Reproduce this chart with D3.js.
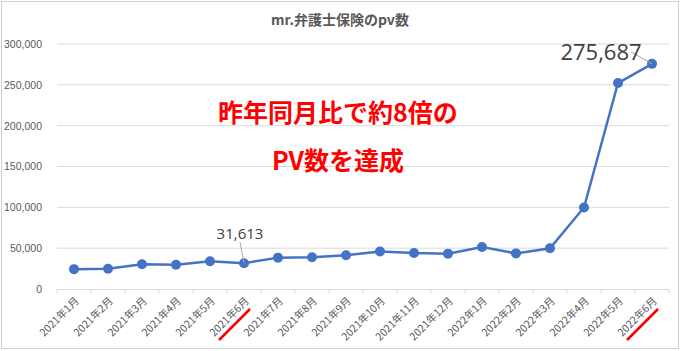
<!DOCTYPE html>
<html>
<head>
    <meta charset="utf-8">
    <title>mr.弁護士保険のpv数</title>
    <script src="https://d3js.org/d3.v7.min.js"></script>
    <style>
        body { margin: 0; background: #fff; }
        text { font-family: "Noto Sans CJK JP", "Noto Sans", sans-serif; }
    </style>
</head>
<body>
    <script>
        // データ
        var months = ["2021年1月", "2021年2月", "2021年3月", "2021年4月", "2021年5月", "2021年6月",
                      "2021年7月", "2021年8月", "2021年9月", "2021年10月", "2021年11月", "2021年12月",
                      "2022年1月", "2022年2月", "2022年3月", "2022年4月", "2022年5月", "2022年6月"];
        var pv = [24300, 24900, 30300, 29800, 33900, 31613,
                  38400, 38800, 41300, 46000, 44100, 43300,
                  51500, 43600, 49900, 99800, 252200, 275687];
        var yTicks = [0, 50000, 100000, 150000, 200000, 250000, 300000];
        var labelled = ["2021年6月", "2022年6月"];

        var width = 681, height = 351;
        var plotLeft = 57, plotRight = 669, plotTop = 44, plotBottom = 289;

        var svg = d3.select("body")
                    .append("svg")
                    .attr("width", width)
                    .attr("height", height);

        // 外枠
        svg.append("rect")
           .attr("x", 1.5).attr("y", 1.5)
           .attr("width", width - 4).attr("height", height - 4)
           .attr("fill", "#fff")
           .attr("stroke", "#d0d0d0");

        var x = d3.scaleBand().domain(months).range([plotLeft, plotRight]);
        var y = d3.scaleLinear().domain([0, 300000]).range([plotBottom, plotTop]);

        // グリッド線
        svg.append("g")
           .selectAll("line")
           .data(yTicks.slice(1))
           .join("line")
           .attr("x1", plotLeft).attr("x2", plotRight)
           .attr("y1", d => y(d)).attr("y2", d => y(d))
           .attr("stroke", "#d9d9d9");

        // Y軸
        var yAxis = svg.append("g")
           .attr("transform", `translate(${plotLeft - 12},0)`)
           .call(d3.axisLeft(y).tickValues(yTicks).tickSize(0).tickFormat(d3.format(",")));
        yAxis.select(".domain").remove();
        yAxis.selectAll("text")
             .attr("fill", "#595959")
             .style("font-family", "'Liberation Sans Narrow', 'Liberation Sans', sans-serif")
             .style("font-size", "10.5px");

        // X軸
        var xAxis = svg.append("g")
           .attr("transform", `translate(0,${plotBottom})`)
           .call(d3.axisBottom(x).tickSize(0));
        xAxis.select(".domain").attr("stroke", "#d9d9d9");
        xAxis.selectAll(".tick text")
             .attr("fill", "#595959")
             .style("font-size", "10.5px")
             .attr("text-anchor", "end")
             .attr("x", 0).attr("y", 0).attr("dy", "0.35em")
             .attr("transform", "translate(3,10) rotate(-45)");

        // 目盛り (区切り線)
        svg.append("g")
           .selectAll("line")
           .data(months.concat(["end"]))
           .join("line")
           .attr("x1", (d, i) => plotLeft + i * x.step())
           .attr("x2", (d, i) => plotLeft + i * x.step())
           .attr("y1", plotBottom).attr("y2", plotBottom + 4)
           .attr("stroke", "#d9d9d9");

        // 赤い下線
        svg.append("g")
           .selectAll("line")
           .data(labelled)
           .join("line")
           .attr("x1", d => x(d) + x.bandwidth() / 2 - 25)
           .attr("y1", plotBottom + 51)
           .attr("x2", d => x(d) + x.bandwidth() / 2 + 6)
           .attr("y2", plotBottom + 20)
           .attr("stroke", "#ff0000")
           .attr("stroke-width", 2.5);

        // 折れ線
        var line = d3.line()
                     .x((d, i) => x(months[i]) + x.bandwidth() / 2)
                     .y(d => y(d));

        svg.append("path")
           .datum(pv)
           .attr("d", line)
           .attr("fill", "none")
           .attr("stroke", "#4472c4")
           .attr("stroke-width", 2.5);

        svg.append("g")
           .selectAll("circle")
           .data(pv)
           .join("circle")
           .attr("cx", (d, i) => x(months[i]) + x.bandwidth() / 2)
           .attr("cy", d => y(d))
           .attr("r", 5)
           .attr("fill", "#4472c4");

        // データラベル
        var labels = [
            {i: 5, dx: -4, dy: -29, size: 15, lx: -4, ly: -21},
            {i: 17, dx: -51, dy: -12, size: 22, lx: -21, ly: -12}
        ];
        labels.forEach(function (l) {
            var cx = x(months[l.i]) + x.bandwidth() / 2, cy = y(pv[l.i]);
            svg.append("line")
               .attr("x1", cx + l.lx).attr("y1", cy + l.ly)
               .attr("x2", cx).attr("y2", cy)
               .attr("stroke", "#a6a6a6");
            svg.append("text")
               .attr("x", cx + l.dx).attr("y", cy + l.dy)
               .attr("text-anchor", "middle")
               .attr("dy", "0.35em")
               .attr("fill", "#404040")
               .style("font-family", "'Open Sans', 'Noto Sans', sans-serif")
               .style("font-size", l.size + "px")
               .text(d3.format(",")(pv[l.i]));
        });

        // タイトル
        svg.append("text")
           .attr("x", 340).attr("y", 20)
           .attr("text-anchor", "middle")
           .attr("dy", "0.35em")
           .attr("fill", "#595959")
           .style("font-size", "14px")
           .style("font-weight", "bold")
           .text("mr.弁護士保険のpv数");

        // 注釈
        svg.append("g")
           .selectAll("text")
           .data(["昨年同月比で約8倍の", "PV数を達成"])
           .join("text")
           .attr("x", 338)
           .attr("y", (d, i) => 113 + i * 48)
           .attr("dy", "0.35em")
           .attr("text-anchor", "middle")
           .attr("fill", "#ff0000")
           .style("font-size", "25px")
           .style("font-weight", "bold")
           .text(d => d);
    </script>
</body>
</html>
